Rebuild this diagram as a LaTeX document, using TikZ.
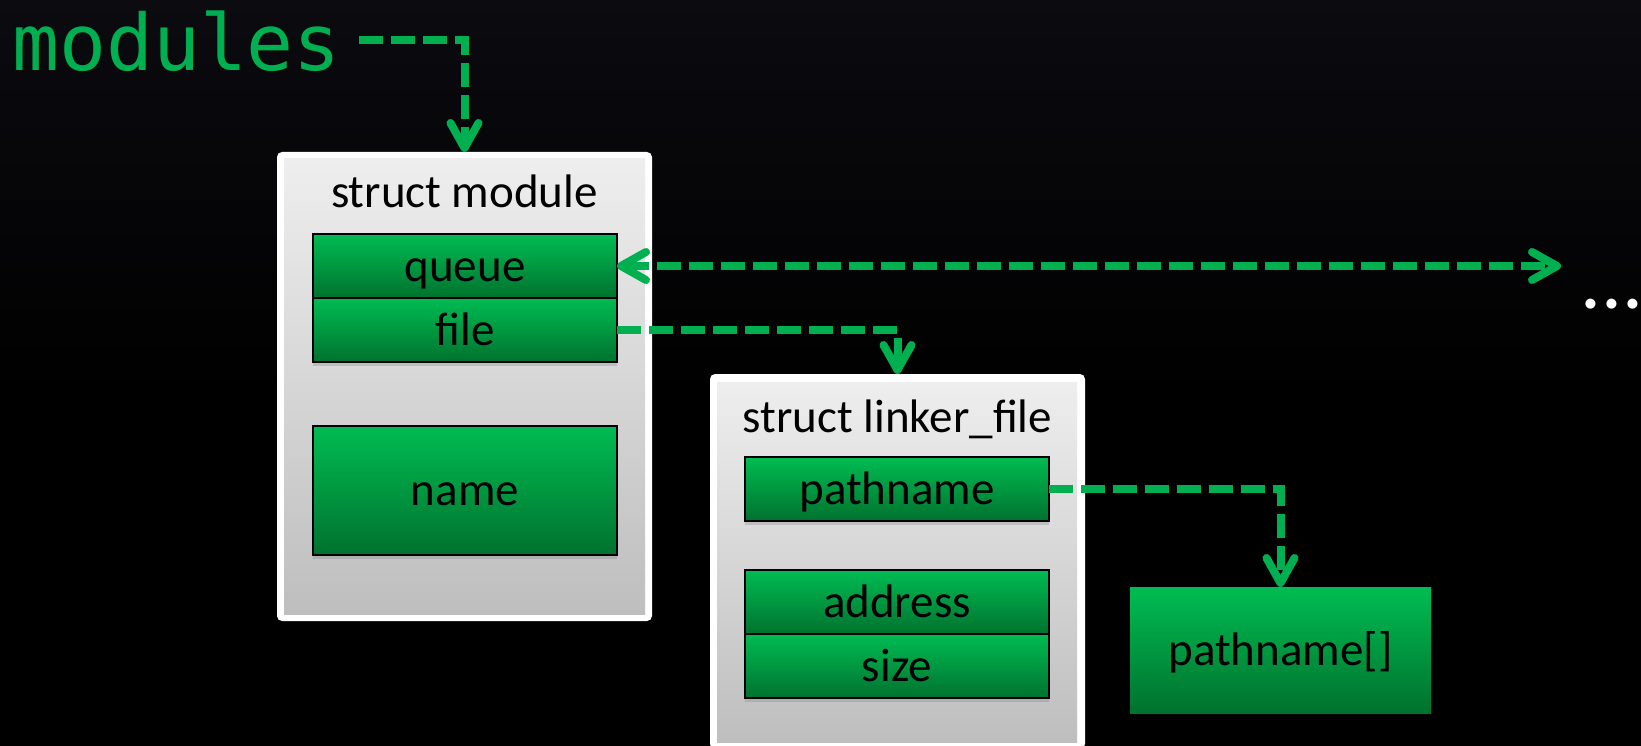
\documentclass[tikz,border=0pt]{standalone}
\usepackage{fontspec}
\setmainfont{Carlito}
\newfontfamily\codefont{DejaVu Sans Mono}
\usetikzlibrary{arrows.meta,shadows}

\definecolor{linkgreen}{RGB}{0,176,80}
\definecolor{fieldtop}{RGB}{0,188,82}
\definecolor{fieldbot}{RGB}{0,114,46}
\definecolor{paneltop}{RGB}{238,238,238}
\definecolor{panelbot}{RGB}{190,190,190}
\definecolor{bgtop}{RGB}{11,11,16}

\tikzset{
  panel/.style={fill=white, rounded corners=5pt, inner sep=0pt, outer sep=0pt},
  panelfill/.style={top color=paneltop, bottom color=panelbot},
  labelfont/.style={font=\fontsize{47}{47}\selectfont},
  title/.style={labelfont, anchor=base, inner sep=0pt, text=black},
  field/.style={draw=black, line width=2pt, top color=fieldtop, bottom color=fieldbot,
    inner sep=0pt, outer sep=0pt, labelfont, text height=30pt, text depth=0pt,
    minimum width=304pt, minimum height=64pt,
    drop shadow={shadow xshift=0pt, shadow yshift=-4pt, opacity=0.3}},
  block/.style={top color=fieldtop, bottom color=fieldbot,
    inner sep=0pt, outer sep=0pt, labelfont, text height=30pt, text depth=0pt},
  link/.style={draw=linkgreen, line width=8pt, dash pattern=on 24pt off 8pt},
  barb/.tip={Straight Barb[length=25pt, width=28pt, line width=8pt, round]},
}

\begin{document}
\begin{tikzpicture}[x=1pt, y=-1pt]
\useasboundingbox (0,0) rectangle (1641,746);
\clip (0,0) rectangle (1641,746);

% dark backdrop
\fill[black] (0,0) rectangle (1641,746);
\shade[top color=bgtop, bottom color=black] (0,0) rectangle (1641,400);

% list head
\node[anchor=base west, text=linkgreen, font=\codefont\fontsize{78}{78}\selectfont,
      inner sep=0pt, text height=62pt, text depth=0pt] (modules) at (12,71) {modules};

% struct module
\node[panel, minimum width=375pt, minimum height=469pt] (mod) at (464.5,386.5) {};
\shade[panelfill] ([shift={(7,7)}]mod.north west) rectangle ([shift={(-7,-7)}]mod.south east);
\node[title] (modtitle) at (464.5,208) {struct module};
\node[field] (queue) at (465,266) {queue};
\node[field] (file) at (465,330) {file};
\node[field, minimum height=129pt] (name) at (465,490.5) {name};

% struct linker_file
\node[panel, minimum width=375pt, minimum height=375pt] (lf) at (897.5,561.5) {};
\shade[panelfill] ([shift={(7,8)}]lf.north west) rectangle ([shift={(-8,-7)}]lf.south east);
\node[title] (lftitle) at (897.5,432) {struct linker\_file};
\node[field] (pathname) at (897,489) {pathname};
\node[field] (address) at (897,602) {address};
\node[field] (size) at (897,666) {size};

% file name buffer
\node[block, minimum width=301pt, minimum height=126pt] (parr) at (1280.5,650) {pathname[]};

% continuation of the list
\node[anchor=base west, inner sep=0pt, text=white, font=\fontsize{83}{83}\selectfont] (dots) at (1580,308) {...};
\coordinate (more) at (1561,266);

% pointers
\draw[link, -barb, shorten <=18pt] (modules.east) -| (mod.north);
\draw[link, barb-barb] (queue.east) -- (more);
\draw[link, -barb] (file.east) -| (lf.north);
\draw[link, -barb] (pathname.east) -| (parr.north);
\end{tikzpicture}
\end{document}
